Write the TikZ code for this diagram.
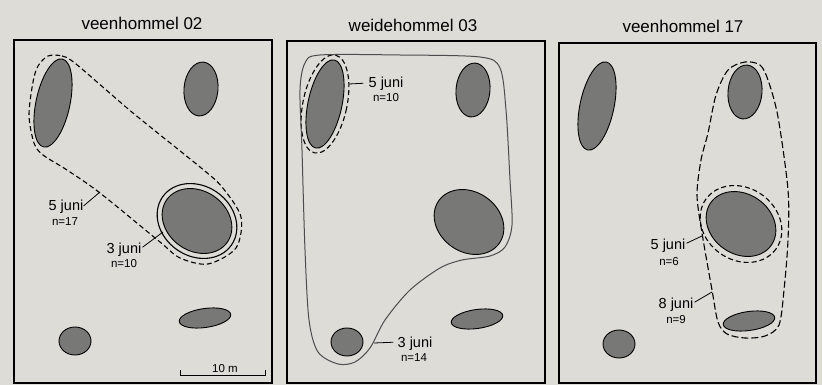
\documentclass[tikz,border=0pt]{standalone}
\usepackage{fontspec}
\setmainfont{Liberation Sans}
\definecolor{bggray}{RGB}{222,220,215}
\definecolor{blobgray}{RGB}{120,120,118}
\newcommand\drawmyblobs{%
  \path[blob, rotate around={-12:(53,103)}] (53,103) ellipse [x radius=17, y radius=45];
  \path[blob, rotate around={-5:(201,89)}] (201,89) ellipse [x radius=17, y radius=27];
  \path[blob, rotate around={-35:(197,221)}] (197,221) ellipse [x radius=37, y radius=30];
  \path[blob, rotate around={8:(205,318)}] (205,318) ellipse [x radius=26, y radius=9.5];
  \path[blob] (75,341) ellipse [x radius=16, y radius=14];
}
\begin{document}
\begin{tikzpicture}[x=1pt,y=-1pt,
  blob/.style={draw=black, line width=0.9pt, fill=blobgray},
  frame/.style={draw=black, line width=1.4pt},
  dashline/.style={draw=black, line width=1.1pt, dash pattern=on 5pt off 3pt},
  ringline/.style={draw=black, line width=1.1pt},
  envline/.style={draw=black!70, line width=1pt},
  leader/.style={draw=black, line width=0.8pt},
  title/.style={font=\fontsize{17}{20}\selectfont, inner sep=0pt, anchor=base},
  datelab/.style={font=\fontsize{14.5}{16}\selectfont, inner sep=0pt, anchor=base},
  nlab/.style={font=\fontsize{11.5}{13}\selectfont, inner sep=0pt, anchor=base}]
\fill[bggray] (0,0) rectangle (822,385);
\useasboundingbox (0,0) rectangle (822,385);

% frames
\path[frame] (14,40) rectangle (272,383);
\path[frame] (287,41) rectangle (545,383);
\path[frame] (559,43) rectangle (816,383);

% titles
\node[title] (t1) at (142,30) {veenhommel 02};
\node[title] (t2) at (413,31.5) {weidehommel 03};
\node[title] (t3) at (683,33) {veenhommel 17};

% blobs
\begin{scope}\drawmyblobs\end{scope}
\begin{scope}[shift={(272,1)}]\drawmyblobs\end{scope}
\begin{scope}[shift={(544,3)}]\drawmyblobs\end{scope}

% ---------- panel 1 ----------
\path[ringline, rotate around={-35:(197,221)}] (197,221) ellipse [x radius=42, y radius=35];
\path[dashline] plot[smooth cycle, tension=0.5] coordinates {
  (48,56) (62,56) (76,64) (133,113) (200,167) (222,187) (241,217) (236,248)
  (208,264) (180,258) (160,242) (100,193) (67,170) (43,155) (34,143) (29,115) (33,82) (38,66)};
\node[datelab] (a1) at (66,210.7) {5 juni};
\node[nlab] (a1n) at (65,225) {n=17};
\coordinate (a1c) at (100,192);
\draw[leader] ([yshift=1pt]a1.east) -- (a1c);
\node[datelab] (a2) at (124,253) {3 juni};
\node[nlab] (a2n) at (124,267) {n=10};
\coordinate (a2c) at (163,232);
\draw[leader] ([xshift=1pt,yshift=2pt]a2.east) -- (a2c);
% scale bar
\coordinate (sL) at (180,370);
\coordinate (sR) at (265,370);
\draw[line width=0.9pt] (sL) -- ++(0,5) -| (sR);
\node[nlab] (sc) at (225,372) {10 m};

% ---------- panel 2 ----------
\path[dashline, rotate around={-12:(325,104)}] (325,104) ellipse [x radius=22, y radius=50];
\path[envline] plot[smooth cycle, tension=0.5] coordinates {
  (320,55) (400,55) (480,57) (500,68) (506,110) (510,180) (512,225) (505,247)
  (490,256) (462,260) (440,268) (410,290) (385,320) (370,348) (355,362) (338,364)
  (318,352) (309,320) (305,250) (302,150) (300,90) (305,63)};
\node[datelab] (b1) at (386,88) {5 juni};
\node[nlab] (b1n) at (386,102) {n=10};
\coordinate (b1c) at (349,84);
\draw[leader] (b1c) -- ([xshift=-5pt,yshift=1pt]b1.west);
\node[datelab] (b2) at (415,347) {3 juni};
\node[nlab] (b2n) at (414,361) {n=14};
\coordinate (b2c) at (374,343);
\draw[leader] (b2c) -- ([xshift=-4pt,yshift=1pt]b2.west);

% ---------- panel 3 ----------
\path[dashline, rotate around={-35:(741,224)}] (741,224) ellipse [x radius=43, y radius=36];
\path[dashline, dash pattern=on 7pt off 3pt] plot[smooth cycle, tension=0.5] coordinates {
  (745,62) (760,65) (768,80) (778,117) (788,190) (788,240) (784,290) (779,325)
  (765,336) (745,338) (727,334) (718,322) (712,290) (702,233) (697,195) (701,160)
  (708,133) (716,95) (728,70)};
\node[datelab] (c1) at (668,249) {5 juni};
\node[nlab] (c1n) at (669,265) {n=6};
\coordinate (c1c) at (702,236);
\draw[leader] ([xshift=1pt,yshift=2pt]c1.east) -- (c1c);
\node[datelab] (c2) at (676,308) {8 juni};
\node[nlab] (c2n) at (676,323) {n=9};
\coordinate (c2c) at (712,292);
\draw[leader] ([xshift=1pt,yshift=2pt]c2.east) -- (c2c);
\end{tikzpicture}
\end{document}
